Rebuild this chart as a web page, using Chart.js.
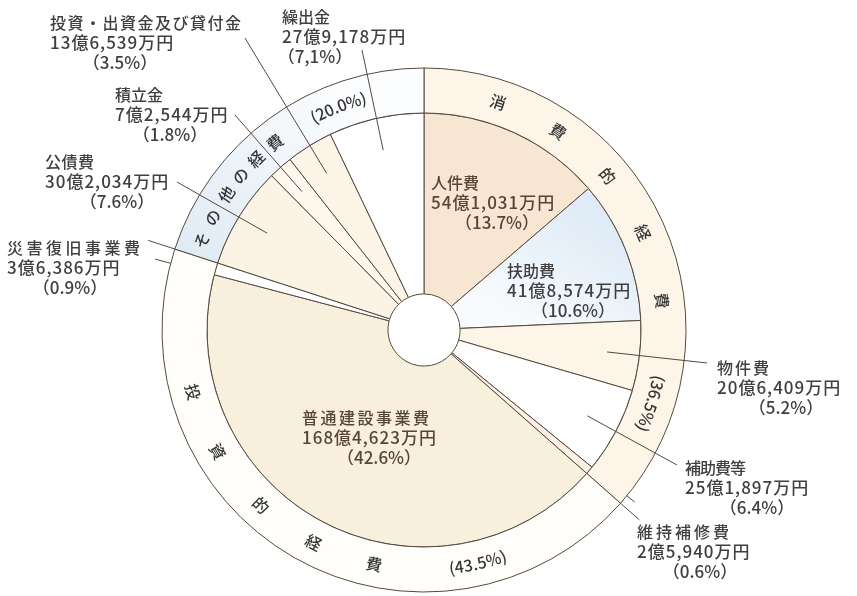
<!DOCTYPE html>
<html lang="ja">
<head>
<meta charset="utf-8">
<script src="https://cdn.jsdelivr.net/npm/chart.js@4/dist/chart.umd.min.js"></script>
<style>
  html, body { margin: 0; padding: 0; background: #fff; }
  #budget-chart { display: block; }
</style>
</head>
<body>
<canvas id="budget-chart" width="857" height="596"></canvas>
<script>
// 性質別歳出の内訳（内側の円）
const items = ['人件費', '扶助費', '物件費', '補助費等', '維持補修費', '普通建設事業費',
    '災害復旧事業費', '公債費', '積立金', '投資・出資金及び貸付金', '繰出金'];
const amounts = ['54億1,031万円', '41億8,574万円', '20億6,409万円', '25億1,897万円', '2億5,940万円',
    '168億4,623万円', '3億6,386万円', '30億2,034万円', '7億2,544万円', '13億6,539万円', '27億9,178万円'];
const shares = [13.7, 10.6, 5.2, 6.4, 0.6, 42.6, 0.9, 7.6, 1.8, 3.5, 7.1];
const shareText = ['（13.7%）', '（10.6%）', '（5.2%）', '（6.4%）', '（0.6%）', '（42.6%）',
    '（0.9%）', '（7.6%）', '（1.8%）', '（3.5%）', '（7,1%）'];

// 外側の輪
const groups = ['消費的経費', '投資的経費', 'その他の経費'];
const groupShares = [36.5, 43.5, 20.0];

// --- 見た目 ---
const lineColor = '#56493f',
    grayText = '#404040',
    brownText = '#574535',
    jpFont = '"Noto Sans CJK JP", "Noto Sans", sans-serif';

const itemColors = ['#f7e6d2', '#e6f0f8', '#fcf5e8', '#ffffff', '#fbf0e3', '#f9efdd',
    '#ffffff', '#fbf3e4', '#fdf7ed', '#fbf4e7', '#ffffff'];
const groupColors = ['#fcf5e8', '#fffefb', '#e3edf6'];

// ラベル位置 [x, 1行目y, 字間, ％の中心x]
const labelBox = [
    [431, 183, 0, 497],
    [507, 271, 0, 573],
    [717, 368, 2, 786],
    [685, 468, -1, 757],
    [637, 532, 3, 700],
    [302, 418, 2.5, 379],
    [7, 248, 3.5, 70],
    [45, 162, 0.5, 117],
    [115, 95, 0, 170],
    [50, 23, 1.5, 120],
    [282, 17, 0, 315],
];
// 引き出し線の端（ラベル側）
const leaderEnd = [null, null, [707, 363], [677, 465], null, null, null,
    [177, 182], [235, 115], [245, 38], [362, 50]];
// 細い扇の境界線を外へ延ばす長さ [開始側, 終了側]
const extendTo = {4: [272, 287], 6: [278, 290]};

// 輪の文字（上からの角度・度）
const ringText = [
    {at: [18, 34, 50, 66, 83], pct: 108, up: 'out'},
    {at: [255, 239.5, 223, 207.5, 192], pct: 167, up: 'in'},
    {at: [292, 298, 304.5, 310, 315.5, 321.5], pct: 339, up: 'out'},
];

function fade(chart, p0, p1, c0, c1) {
    const area = chart.chartArea;
    if (!area) return c0;
    const cx = (area.left + area.right) / 2,
        cy = (area.top + area.bottom) / 2,
        r = 262;
    const g = chart.ctx.createLinearGradient(cx + p0[0] * r, cy + p0[1] * r, cx + p1[0] * r, cy + p1[1] * r);
    g.addColorStop(0, c0);
    g.addColorStop(1, c1);
    return g;
}

function charAt(c, ch, deg, r, cx, cy, up) {
    const a = deg * Math.PI / 180;
    c.save();
    c.translate(cx + r * Math.sin(a), cy - r * Math.cos(a));
    c.rotate(up === 'out' ? a : a + Math.PI);
    c.fillText(ch, 0, 0);
    c.restore();
}

function arcString(c, str, deg, r, cx, cy, up) {
    const total = c.measureText(str).width;
    let run = 0;
    for (const ch of str) {
        const w = c.measureText(ch).width;
        const off = (run + w / 2 - total / 2) / r * 180 / Math.PI;
        charAt(c, ch, up === 'out' ? deg + off : deg - off, r, cx, cy, up);
        run += w;
    }
}

const labelPlugin = {
    id: 'budgetLabels',
    afterDatasetsDraw(chart) {
        const c = chart.ctx,
            ring = chart.getDatasetMeta(0).data,
            pie = chart.getDatasetMeta(1).data;

        c.save();
        c.strokeStyle = lineColor;
        c.lineWidth = 1;

        // 引き出し線
        pie.forEach((arc, i) => {
            const end = leaderEnd[i];
            if (!end) return;
            const mid = (arc.startAngle + arc.endAngle) / 2,
                r = arc.innerRadius + (arc.outerRadius - arc.innerRadius) * 0.82;
            c.beginPath();
            c.moveTo(arc.x + Math.cos(mid) * r, arc.y + Math.sin(mid) * r);
            c.lineTo(end[0], end[1]);
            c.stroke();
        });

        // 細い扇は境界線をそのまま外へ
        Object.keys(extendTo).forEach(k => {
            const arc = pie[k],
                outer = ring[0].outerRadius;
            [arc.startAngle, arc.endAngle].forEach((a, j) => {
                c.beginPath();
                c.moveTo(arc.x + Math.cos(a) * outer, arc.y + Math.sin(a) * outer);
                c.lineTo(arc.x + Math.cos(a) * extendTo[k][j], arc.y + Math.sin(a) * extendTo[k][j]);
                c.stroke();
            });
        });

        // 内側・外側のラベル
        c.textBaseline = 'middle';
        items.forEach((name, i) => {
            const [x, y, sp, pcx] = labelBox[i];
            c.fillStyle = (i === 0 || i === 5) ? brownText : grayText;
            c.font = '500 16px ' + jpFont;
            c.textAlign = 'left';
            c.letterSpacing = sp + 'px';
            c.fillText(name, x, y);
            c.font = '500 17px ' + jpFont;
            c.letterSpacing = '1px';
            c.fillText(amounts[i], x, y + 20);
            c.letterSpacing = '0px';
            c.textAlign = 'center';
            c.fillText(shareText[i], pcx, y + 40);
        });

        // 輪の文字
        const rx = ring[0].x,
            ry = ring[0].y,
            rr = (ring[0].innerRadius + ring[0].outerRadius) / 2;
        c.fillStyle = '#353535';
        c.textAlign = 'center';
        c.font = '500 16px ' + jpFont;
        groups.forEach((g, i) => {
            const t = ringText[i];
            Array.from(g).forEach((ch, j) => charAt(c, ch, t.at[j], rr, rx, ry, t.up));
            arcString(c, '(' + groupShares[i].toFixed(1) + '%)', t.pct, rr, rx, ry, t.up);
        });

        c.restore();
    }
};

const ctx = document.querySelector('#budget-chart');

const chart = new Chart(ctx.getContext('2d'), {
    type: 'doughnut',
    data: {
        labels: items,
        datasets: [
            {
                data: groupShares,
                weight: 45,
                backgroundColor: (s) => s.dataIndex === 2
                    ? fade(s.chart, [-0.92, -0.2], [-0.3, -0.92], '#dce9f4', '#fcfdfe')
                    : groupColors[s.dataIndex],
                borderColor: lineColor,
                borderWidth: 1,
            },
            {
                data: shares,
                weight: 181,
                backgroundColor: (s) => s.dataIndex === 1
                    ? fade(s.chart, [0.62, -0.45], [0.36, -0.02], '#dfebf6', '#f8fbfd')
                    : itemColors[s.dataIndex],
                borderColor: lineColor,
                borderWidth: 1,
            },
        ],
    },
    options: {
        responsive: false,
        animation: false,
        radius: 262,
        cutout: 36,
        layout: {
            padding: {top: 68, bottom: 4, left: 0, right: 9},
        },
        plugins: {
            legend: {display: false},
            tooltip: {enabled: false},
        },
    },
    plugins: [labelPlugin],
});
</script>
</body>
</html>
